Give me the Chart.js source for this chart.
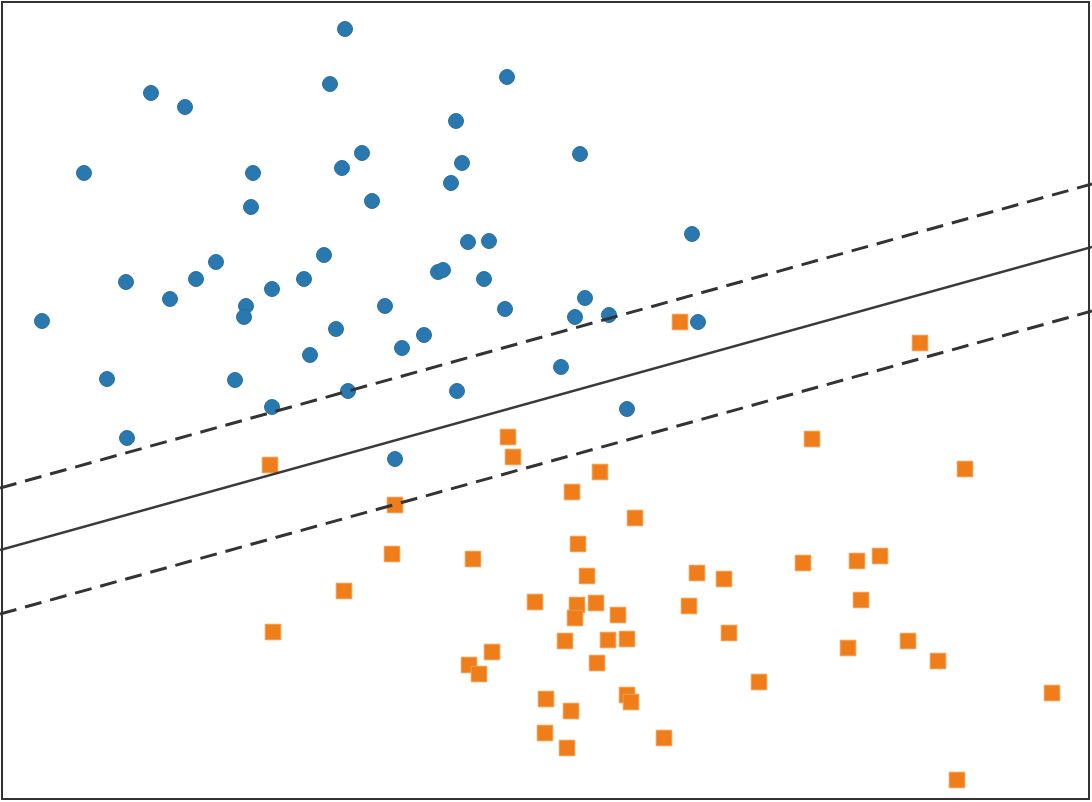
<!DOCTYPE html>
<html>
<head>
<meta charset="utf-8">
<script src="https://cdn.jsdelivr.net/npm/chart.js@4/dist/chart.umd.min.js"></script>
<style>
  body { margin: 0; background: #fff; }
  canvas { display: block; }
</style>
</head>
<body>
<canvas id="svm-chart" width="1092" height="802"></canvas>
<script>
// class A (circles)
var blueX = [345,151,185,330,507,456,84,253,362,342,462,451,580,251,372,692,468,489,324,216,196,126,304,272,438,443,484,170,246,244,385,505,585,575,609,698,42,336,424,402,310,561,107,235,348,457,272,627,127,395];
var blueY = [29,93,107,84,77,121,173,173,153,168,163,183,154,207,201,234,242,241,255,262,279,282,279,289,272,270,279,299,306,317,306,309,298,317,315,322,321,329,335,348,355,367,379,380,391,391,407,409,438,459];

// class B (squares)
var orangeX = [680,920,508,812,513,270,600,965,572,395,635,578,392,473,880,857,803,697,724,587,344,535,577,596,575,618,689,861,273,565,608,627,729,908,848,492,469,479,597,938,759,1052,627,631,546,571,545,664,567,957];
var orangeY = [322,343,437,439,457,465,472,469,492,505,518,544,554,559,556,561,563,573,579,576,591,602,605,603,618,615,606,600,632,641,640,639,633,641,648,652,665,674,663,661,682,693,695,702,699,711,733,738,748,780];

// separating line and margins (end points)
var lineX = [0, 1092];
var solidY = [550, 247];
var upperY = [488, 184];
var lowerY = [614, 311];

function pts(xs, ys) {
  return xs.map(function (x, i) { return { x: x, y: ys[i] }; });
}

var frame = {
  id: 'frame',
  afterDraw: function (chart) {
    var ctx = chart.ctx;
    ctx.save();
    ctx.strokeStyle = '#333';
    ctx.lineWidth = 2;
    ctx.strokeRect(2, 2, 1087, 797);
    ctx.restore();
  }
};

new Chart(document.getElementById('svm-chart'), {
  type: 'scatter',
  data: {
    datasets: [
      {
        label: 'margin +',
        data: pts(lineX, upperY),
        showLine: true,
        borderColor: '#333',
        borderWidth: 3,
        borderDash: [17, 9],
        pointRadius: 0
      },
      {
        label: 'boundary',
        data: pts(lineX, solidY),
        showLine: true,
        borderColor: '#3a3a3a',
        borderWidth: 2.5,
        pointRadius: 0
      },
      {
        label: 'margin -',
        data: pts(lineX, lowerY),
        showLine: true,
        borderColor: '#333',
        borderWidth: 3,
        borderDash: [17, 9],
        pointRadius: 0
      },
      {
        label: 'A',
        data: pts(blueX, blueY),
        pointStyle: 'circle',
        pointRadius: 7.5,
        backgroundColor: '#2a78b0',
        borderColor: '#2a6f9f',
        borderWidth: 1
      },
      {
        label: 'B',
        data: pts(orangeX, orangeY),
        pointStyle: 'rect',
        pointRadius: 11,
        backgroundColor: '#ee7d1a',
        borderColor: '#f29a4a',
        borderWidth: 1
      }
    ]
  },
  options: {
    responsive: false,
    animation: false,
    layout: { padding: 0, autoPadding: false },
    plugins: {
      legend: { display: false },
      tooltip: { enabled: false }
    },
    scales: {
      x: { type: 'linear', min: 0, max: 1092, display: false },
      y: { type: 'linear', min: 0, max: 802, reverse: true, display: false }
    }
  },
  plugins: [frame]
});
</script>
</body>
</html>
